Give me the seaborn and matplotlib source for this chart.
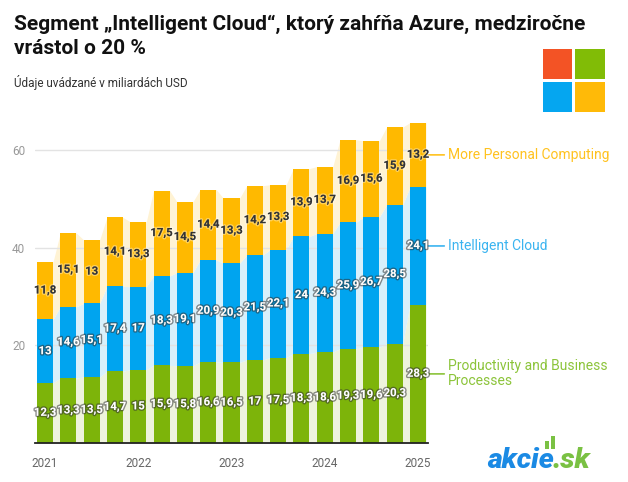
import numpy as np
import pandas as pd
import matplotlib
matplotlib.use("Agg")
import matplotlib.pyplot as plt
import matplotlib.patheffects as pe
from matplotlib.patches import Rectangle
import seaborn as sns

# ---- data ----
quarters = ["2021 Q1", "2021 Q2", "2021 Q3", "2021 Q4",
            "2022 Q1", "2022 Q2", "2022 Q3", "2022 Q4",
            "2023 Q1", "2023 Q2", "2023 Q3", "2023 Q4",
            "2024 Q1", "2024 Q2", "2024 Q3", "2024 Q4",
            "2025 Q1"]
productivity = [12.3, 13.3, 13.5, 14.7, 15.0, 15.9, 15.8, 16.6, 16.5, 17.0,
                17.5, 18.3, 18.6, 19.3, 19.6, 20.3, 28.3]
cloud = [13.0, 14.6, 15.1, 17.4, 17.0, 18.3, 19.1, 20.9, 20.3, 21.5,
         22.1, 24.0, 24.3, 25.9, 26.7, 28.5, 24.1]
personal = [11.8, 15.1, 13.0, 14.1, 13.3, 17.5, 14.5, 14.4, 13.3, 14.2,
            13.3, 13.9, 13.7, 16.9, 15.6, 15.9, 13.2]
year_ticks = ["2021", "2022", "2023", "2024", "2025"]
series_names = ["Productivity and Business\nProcesses", "Intelligent Cloud",
                "More Personal Computing"]

title = "Segment \u201eIntelligent Cloud\u201c, ktor\u00fd zah\u0155\u0148a Azure, medziro\u010dne\nvr\u00e1stol o 20 %"
subtitle = "\u00dadaje uv\u00e1dzan\u00e9 v miliard\u00e1ch USD"

# ---- style ----
sns.set_style("white")
plt.rcParams["font.family"] = ["Roboto", "DejaVu Sans"]

GREEN, BLUE, YELLOW = "#7db40a", "#00a4ef", "#ffb900"
PGREEN, PBLUE, PYELLOW = "#eef3dc", "#d9f0fb", "#fff3d4"
LGREEN, LBLUE, LYELLOW = "#8cc43a", "#3bb4f0", "#ffc21f"

W, H = 628, 482
fx = lambda x: x / W
fy = lambda y: 1 - y / H

fig = plt.figure(figsize=(6.28, 4.82), dpi=100)
ax = fig.add_axes([fx(35), fy(443), (428 - 35) / W, (443 - 120.7) / H])

df = pd.DataFrame({"quarter": quarters, "p": productivity, "c": cloud, "m": personal})
df["pc"] = df["p"] + df["c"]
df["tot"] = df["pc"] + df["m"]

BW = 0.69
n = len(quarters)

# pale connecting areas behind the bars
xs = np.ravel([[i - BW / 2, i + BW / 2] for i in range(n)])
rep = lambda s: np.repeat(np.asarray(s, dtype=float), 2)
ax.fill_between(xs, 0, rep(df["p"]), color=PGREEN, lw=0, zorder=1)
ax.fill_between(xs, rep(df["p"]), rep(df["pc"]), color=PBLUE, lw=0, zorder=1)
ax.fill_between(xs, rep(df["pc"]), rep(df["tot"]), color=PYELLOW, lw=0, zorder=1)

# stacked bars (cumulative overdraw)
for col, colr in [("tot", YELLOW), ("pc", BLUE), ("p", GREEN)]:
    sns.barplot(data=df, x="quarter", y=col, order=quarters, color=colr,
                saturation=1, width=BW, errorbar=None, linewidth=0, ax=ax,
                zorder=3)

ax.set_xlim(-0.43, n - 1 + 0.43)
ax.set_ylim(0, 66)

# grid
for g in [20, 40, 60]:
    ax.axhline(g, color="#e3e3e3", lw=1, zorder=2)

# data labels
def fmt(v):
    s = f"{v:.1f}"
    if s.endswith(".0"):
        s = s[:-2]
    return s.replace(".", ",")

white_fx = [pe.withStroke(linewidth=2, foreground=(0.2, 0.2, 0.2, 0.55))]
dark_fx = [pe.withStroke(linewidth=2, foreground=(1, 1, 1, 0.35))]
for i in range(n):
    p, c, m = df["p"][i], df["c"][i], df["m"][i]
    ax.text(i, p / 2, fmt(p), ha="center", va="center", fontsize=8.2,
            fontweight="bold", color="white", path_effects=white_fx, zorder=5)
    ax.text(i, p + c / 2, fmt(c), ha="center", va="center", fontsize=8.2,
            fontweight="bold", color="white", path_effects=white_fx, zorder=5)
    ax.text(i, p + c + m / 2, fmt(m), ha="center", va="center", fontsize=8.2,
            fontweight="bold", color="#333333", path_effects=dark_fx, zorder=5)

# series labels at the right end
last = n - 1
ends = [df["p"][last] / 2, df["p"][last] + df["c"][last] / 2,
        df["pc"][last] + df["m"][last] / 2]
for name, yv, colr in zip(series_names, ends, [LGREEN, LBLUE, LYELLOW]):
    ax.annotate(name, xy=(last + BW / 2, yv), xytext=(15.5, 0),
                textcoords="offset points", ha="left", va="center",
                fontsize=10, color=colr, annotation_clip=False,
                linespacing=1.1,
                arrowprops=dict(arrowstyle="-", color=colr, lw=1.2,
                                shrinkA=0, shrinkB=1.5))

# axes styling
for s in ["left", "right", "top"]:
    ax.spines[s].set_visible(False)
ax.spines["bottom"].set_color("#222222")
ax.spines["bottom"].set_linewidth(1.3)
ax.spines["bottom"].set_zorder(6)
ax.set_xticks([0, 4, 8, 12, 16])
ax.set_xticklabels(year_ticks)
ax.set_yticks([20, 40, 60])
ax.set_yticklabels(["20", "40", "60"])
ax.tick_params(axis="x", length=5, width=1, color="#222222",
               labelcolor="#666666", labelsize=8.5, pad=5)
ax.tick_params(axis="y", length=0, labelcolor="#999999", labelsize=8.5, pad=7)
ax.set_xlabel("")
ax.set_ylabel("")

# title and subtitle
fig.text(fx(14), fy(15), title, ha="left", va="top", fontsize=15,
         fontweight="bold", color="#111111", linespacing=1.33)
fig.text(fx(14), fy(83), subtitle, ha="left", va="center", fontsize=8.5,
         color="#333333")

# Microsoft logo
for (x0, y0, colr) in [(542.7, 49.3, "#f35325"), (575.2, 49.3, "#81bc06"),
                       (542.7, 81.8, "#05a6f0"), (575.2, 81.8, "#ffba08")]:
    fig.patches.append(Rectangle((fx(x0), fy(y0 + 29.7)), 29.7 / W, 29.7 / H,
                                 transform=fig.transFigure, color=colr, lw=0))

# akcie.sk logo
t1 = fig.text(fx(487), fy(468), "akcie", ha="left", va="baseline", fontsize=20.5,
              fontweight="heavy", fontstyle="italic", color="#1b8ae4")
fig.canvas.draw()
bb = t1.get_window_extent(fig.canvas.get_renderer())
x_end = bb.x1 / fig.bbox.width
fig.text(x_end - 1 / W, fy(468), ".sk", ha="left", va="baseline", fontsize=20.5,
         fontweight="heavy", fontstyle="italic", color="#7ac143")
xe_px = bb.x1
for (dx, y0, w, h) in [(-8.5, 441, 3.5, 8), (-2.5, 436, 4, 13)]:
    fig.patches.append(Rectangle(((xe_px + dx) / W, fy(y0 + h)), w / W, h / H,
                                 transform=fig.transFigure, color="#7ac143", lw=0))

fig.savefig("out.png", dpi=100)
